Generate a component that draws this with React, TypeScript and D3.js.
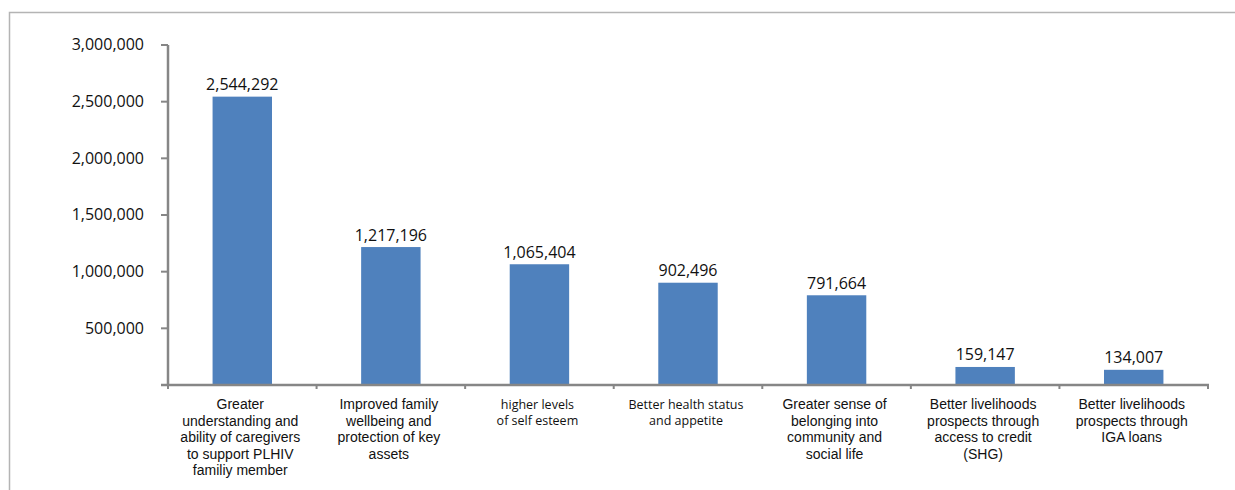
import React from "react";
import * as d3 from "d3";

const categories: string[][] = [
  ["Greater", "understanding and", "ability of caregivers", "to support PLHIV", "familiy member"],
  ["Improved family", "wellbeing and", "protection of key", "assets"],
  ["higher levels", "of self esteem"],
  ["Better health status", "and appetite"],
  ["Greater sense of", "belonging into", "community and", "social life"],
  ["Better livelihoods", "prospects through", "access to credit", "(SHG)"],
  ["Better livelihoods", "prospects through", "IGA loans"],
];
const values: number[] = [2544292, 1217196, 1065404, 902496, 791664, 159147, 134007];
const yTicks: number[] = [0, 500000, 1000000, 1500000, 2000000, 2500000, 3000000];
const humanistLabels: boolean[] = [false, false, true, true, false, false, false];

const W = 1235;
const H = 490;
const AXIS = "#868686";
const BAR = "#4F81BD";
const ARIAL = "'Liberation Sans', Arial, sans-serif";
const OPEN = "'Open Sans', sans-serif";

export default function App() {
  const ids = categories.map((_, i) => String(i));
  const x = d3.scaleBand<string>().domain(ids).range([168, 1208]).paddingInner(0.6).paddingOuter(0.3);
  const y = d3.scaleLinear().domain([0, 3000000]).range([385, 45]);
  const fmt = d3.format(",");
  const step = x.step();

  return (
    <svg
      width={W}
      height={H}
      style={{ position: "fixed", left: 0, top: 0, background: "#fff" }}
    >
      <rect x={0} y={0} width={W} height={H} fill="#fff" />
      {/* outer frame */}
      <path d={`M9.5,${H + 2} V12.5 H${W + 2}`} fill="none" stroke="#b4b4b4" strokeWidth={1.5} />

      {/* bars */}
      {values.map((v, i) => (
        <rect
          key={"b" + i}
          x={x(ids[i])!}
          y={y(v)}
          width={x.bandwidth()}
          height={y(0) - y(v)}
          fill={BAR}
        />
      ))}

      {/* y axis */}
      <line x1={168} x2={168} y1={y(3000000)} y2={y(0)} stroke={AXIS} strokeWidth={2.5} />
      {yTicks.map((t) => (
        <g key={"yt" + t}>
          <line x1={161} x2={168} y1={y(t)} y2={y(t)} stroke={AXIS} strokeWidth={2} />
          {t > 0 && (
            <text
              x={144}
              y={y(t)}
              dy="0.33em"
              textAnchor="end"
              fontFamily={OPEN}
              fontSize={16}
              fill="#111"
            >
              {fmt(t)}
            </text>
          )}
        </g>
      ))}

      {/* x axis */}
      <line x1={161} x2={1209} y1={y(0)} y2={y(0)} stroke={AXIS} strokeWidth={2.5} />
      {d3.range(categories.length + 1).map((k) => {
        const xx = 168 + k * step;
        return <line key={"xt" + k} x1={xx} x2={xx} y1={y(0)} y2={y(0) + 4} stroke={AXIS} strokeWidth={2} />;
      })}

      {/* value labels */}
      {values.map((v, i) => (
        <text
          key={"v" + i}
          x={x(ids[i])! + x.bandwidth() / 2}
          y={y(v) - 6.5}
          textAnchor="middle"
          fontFamily={OPEN}
          fontSize={16}
          fill="#111"
        >
          {fmt(v)}
        </text>
      ))}

      {/* category labels */}
      {categories.map((lines, i) => {
        const cx = x(ids[i])! + x.bandwidth() / 2 - 2;
        const hum = humanistLabels[i];
        const lh = hum ? 15.5 : 16.5;
        return (
          <text
            key={"c" + i}
            x={cx}
            y={409}
            textAnchor="middle"
            fontFamily={hum ? OPEN : ARIAL}
            fontSize={hum ? 12.5 : 14}
            fill="#111"
          >
            {lines.map((ln, j) => (
              <tspan key={j} x={cx} y={409 + j * lh}>
                {ln}
              </tspan>
            ))}
          </text>
        );
      })}
    </svg>
  );
}
